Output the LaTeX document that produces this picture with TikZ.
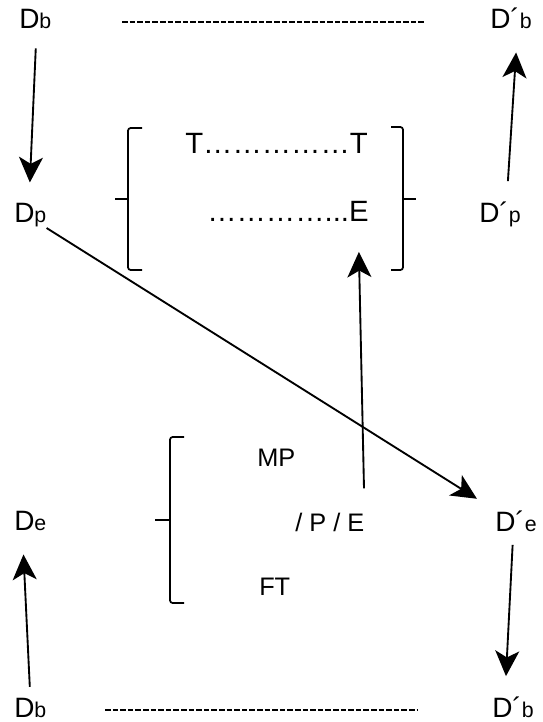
\documentclass[tikz,border=0pt]{standalone}
\usepackage{fontspec}
\setmainfont{Liberation Sans}
\usetikzlibrary{arrows.meta}

% small letter after a D
\newcommand{\lowlet}[1]{{\fontsize{16}{18}\selectfont #1}}

\begin{document}
\begin{tikzpicture}[x=0.75pt,y=-0.75pt]
    % `lbl' is used for the D names, `big' for the two dotted rows,
    % `sml' for the lower texts.
    % `arr' is used for the arrows, `brk' for the brackets.
    \tikzstyle{lbl} = [inner sep=0pt,anchor=base west,font=\fontsize{21}{23}\selectfont]
    \tikzstyle{big} = [inner sep=0pt,anchor=base west,font=\fontsize{22}{24}\selectfont]
    \tikzstyle{sml} = [inner sep=0pt,anchor=base west,font=\fontsize{19}{21}\selectfont]
    \tikzstyle{arr} = [line width=1.4pt,-{Stealth[length=19pt,width=18pt,inset=5pt]}]
    \tikzstyle{brk} = [line width=1.3pt,rounded corners=2pt]
    \tikzstyle{hyph} = [line width=1.4pt,dash pattern=on 4.2pt off 1.5pt]
    \useasboundingbox (0,0) rectangle (543,722);
    %
    \node[lbl] (Db) at (19,28) {D\lowlet{b}};
    \node[lbl] (Dbq) at (490,28) {D´\lowlet{b}};
    \node[lbl] (Dp) at (14,222) {D\lowlet{p}};
    \node[lbl] (Dpq) at (479,222) {D´\lowlet{p}};
    \node[big] (TT) at (185,153) {T……………T};
    \node[big] (ET) at (207,221) {…………...E};
    \node[sml] (MP) at (257,466) {MP};
    \node[sml] (PE) at (295,531) {/ P / E};
    \node[sml] (FT) at (259,595) {FT};
    \node[lbl] (De) at (14,530) {D\lowlet{e}};
    \node[lbl] (Deq) at (495,531) {D´\lowlet{e}};
    \node[lbl] (Db2) at (14,717) {D\lowlet{b}};
    \node[lbl] (Dbq2) at (492,717) {D´\lowlet{b}};
    %
    \coordinate (top0) at (122,22);
    \coordinate (top1) at (425,22);
    \coordinate (bot0) at (105,710);
    \coordinate (bot1) at (418,710);
    \draw[hyph] (top0) -- (top1);
    \draw[hyph] (bot0) -- (bot1);
    %
    % Draw arrows.
    \draw[arr,shorten <=15pt,shorten >=15pt] ([xshift=1pt]Db.south) -- ([xshift=-1pt]Dp.north);
    \draw[arr,shorten <=15pt,shorten >=18pt] ([xshift=5pt]Dpq.north) -- ([xshift=5pt]Dbq.south);
    \draw[arr,shorten <=18pt,shorten >=23pt] (PE.north east) -- ([xshift=-8pt]ET.south east);
    \draw[arr,shorten >=16pt] ([yshift=-1pt]Dp.south east) -- (Deq.north west);
    \draw[arr,shorten <=8pt,shorten >=18pt] (Db2.north) -- ([xshift=-6pt]De.south);
    \draw[arr,shorten <=10pt,shorten >=15pt] ([xshift=-2pt]Deq.south) -- ([xshift=-6pt]Dbq2.north);
    %
    % Draw brackets.
    \draw[brk] (142,128) -- (128,128) -- (128,270) -- (142,270);
    \draw[brk] (115,199) -- (128,199);
    \draw[brk] (391,127) -- (403,127) -- (403,270) -- (391,270);
    \draw[brk] (403,199) -- (416,199);
    \draw[brk] (184,437) -- (170,437) -- (170,603) -- (184,603);
    \draw[brk] (155,520) -- (170,520);
\end{tikzpicture}
\end{document}
